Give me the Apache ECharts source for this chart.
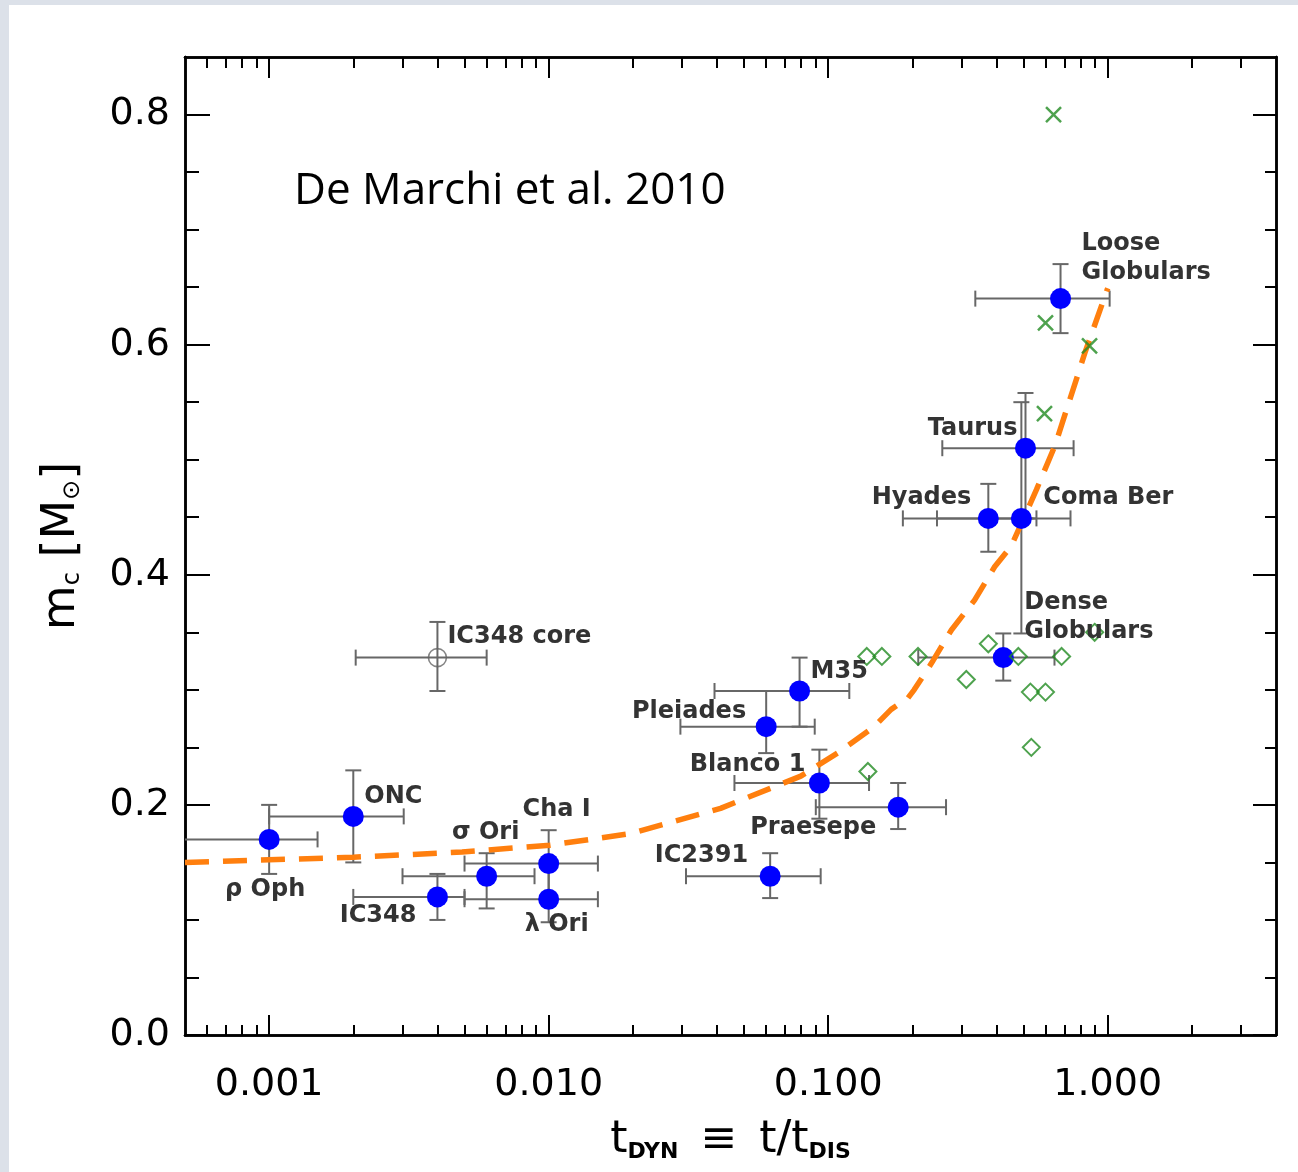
<!DOCTYPE html>
<html><head><meta charset="utf-8">
<script src="https://cdn.jsdelivr.net/npm/echarts@6/dist/echarts.min.js"></script>
<style>
html,body{margin:0;padding:0;width:1298px;height:1172px;overflow:hidden;background:#dce1e9;}
#panel{position:absolute;left:9px;top:5px;width:1289px;height:1167px;background:#fff;}
#chart{position:absolute;left:0;top:0;width:1298px;height:1172px;}
</style></head><body><div id="panel"></div><div id="chart"></div>
<script>
// ---------- data ----------
const clusterNames = ['ρ Oph','ONC','IC348','σ Ori','Cha I','λ Ori','IC2391','Pleiades','M35','Blanco 1','Praesepe','Hyades','Coma Ber','Taurus','Dense\nGlobulars','Loose\nGlobulars'];
const clusterT   = [0.001, 0.002, 0.004, 0.006, 0.010, 0.010, 0.062, 0.060, 0.079, 0.093, 0.178, 0.374, 0.491, 0.508, 0.423, 0.678];
const clusterM   = [0.170, 0.190, 0.120, 0.138, 0.149, 0.118, 0.138, 0.268, 0.299, 0.219, 0.198, 0.449, 0.449, 0.510, 0.328, 0.640];
const clusterTlo = [0.0004, 0.001, 0.002, 0.003, 0.005, 0.005, 0.031, 0.0296, 0.0392, 0.0462, 0.0903, 0.185, 0.245, 0.256, 0.210, 0.336];
const clusterThi = [0.00149, 0.00303, 0.005, 0.0089, 0.015, 0.015, 0.094, 0.0895, 0.119, 0.140, 0.264, 0.556, 0.736, 0.755, 0.645, 1.016];
const clusterMlo = [0.140, 0.150, 0.100, 0.110, 0.120, 0.098, 0.119, 0.245, 0.268, 0.188, 0.179, 0.420, 0.349, 0.449, 0.308, 0.610];
const clusterMhi = [0.200, 0.230, 0.140, 0.158, 0.178, 0.149, 0.158, 0.299, 0.328, 0.248, 0.219, 0.479, 0.550, 0.558, 0.349, 0.670];

const coreName = 'IC348 core';
const coreT = 0.004, coreM = 0.328, coreTlo = 0.00204, coreThi = 0.006, coreMlo = 0.299, coreMhi = 0.359;

const diamondT = [0.1374, 0.1556, 0.2096, 0.374, 0.479, 0.312, 0.529, 0.599, 0.684, 0.898, 0.533, 0.1387];
const diamondM = [0.329, 0.329, 0.329, 0.340, 0.329, 0.309, 0.298, 0.298, 0.329, 0.350, 0.250, 0.229];

const crossT = [0.640, 0.599, 0.861, 0.594];
const crossM = [0.800, 0.619, 0.599, 0.540];

const curveT = [0.0005, 0.002, 0.0049, 0.0101, 0.0196, 0.0412, 0.0798, 0.108, 0.146, 0.168, 0.193, 0.203, 0.234, 0.276, 0.334, 0.394, 0.452, 0.556, 0.647, 0.829, 1.0];
const curveM = [0.150, 0.1545, 0.159, 0.165, 0.175, 0.197, 0.225, 0.245, 0.268, 0.283, 0.293, 0.300, 0.323, 0.352, 0.378, 0.407, 0.425, 0.474, 0.512, 0.593, 0.649];

const xMajorTicks = [0.001, 0.01, 0.1, 1];
const xMinorTicks = [0.0006,0.0007,0.0008,0.0009, 0.002,0.003,0.004,0.005,0.006,0.007,0.008,0.009,
                     0.02,0.03,0.04,0.05,0.06,0.07,0.08,0.09, 0.2,0.3,0.4,0.5,0.6,0.7,0.8,0.9, 2,3];
const yMajorTicks = [0, 0.2, 0.4, 0.6, 0.8];
const yMinorTicks = [0.05,0.1,0.15,0.25,0.3,0.35,0.45,0.5,0.55,0.65,0.7,0.75];

// ---------- styling ----------
const ERR = '#676767', BLUE = '#0000ff', GREEN = '#228b22', ORANGE = '#ff7f0e', LABEL = '#333333';
const labelPlacement = {
  'ρ Oph': {dx:-4, dy:50, align:'center'},
  'ONC': {dx:11, dy:-20, align:'left'},
  'IC348': {dx:-21, dy:19, align:'right'},
  'σ Ori': {dx:-1, dy:-43, align:'center'},
  'Cha I': {dx:8, dy:-54, align:'center'},
  'λ Ori': {dx:8, dy:26, align:'center'},
  'IC2391': {dx:-22, dy:-20, align:'right'},
  'Pleiades': {dx:-20, dy:-15, align:'right'},
  'M35': {dx:11, dy:-19, align:'left'},
  'Blanco 1': {dx:-14, dy:-18, align:'right'},
  'Praesepe': {dx:-22, dy:21, align:'right'},
  'Hyades': {dx:-17, dy:-21, align:'right'},
  'Coma Ber': {dx:22, dy:-21, align:'left'},
  'Taurus': {dx:-8, dy:-19, align:'right'},
  'Dense\nGlobulars': {dx:21, dy:-40, align:'left'},
  'Loose\nGlobulars': {dx:21, dy:-40, align:'left'},
  'IC348 core': {dx:10, dy:-21, align:'left'}
};

const errData = clusterT.map((t,i)=>[t, clusterM[i], clusterTlo[i], clusterThi[i], clusterMlo[i], clusterMhi[i]]);
errData.push([coreT, coreM, coreTlo, coreThi, coreMlo, coreMhi]);
const labelNames = clusterNames.concat([coreName]);
const labelData = errData.map(d=>[d[0], d[1]]);

function renderErr(params, api) {
  const cs = params.coordSys;
  const xmin = cs.x, xmax = cs.x + cs.width;
  const c = api.coord([api.value(0), api.value(1)]);
  const l = api.coord([api.value(2), api.value(1)]);
  const r = api.coord([api.value(3), api.value(1)]);
  const b = api.coord([api.value(0), api.value(4)]);
  const t = api.coord([api.value(0), api.value(5)]);
  const cap = 8;
  const st = () => ({stroke: ERR, lineWidth: 2, fill: null});
  const ch = [];
  const lx = Math.max(l[0], xmin), rx = Math.min(r[0], xmax);
  ch.push({type:'line', shape:{x1:lx, y1:c[1], x2:rx, y2:c[1]}, style: st()});
  if (l[0] >= xmin) ch.push({type:'line', shape:{x1:l[0], y1:c[1]-cap, x2:l[0], y2:c[1]+cap}, style: st()});
  if (r[0] <= xmax) ch.push({type:'line', shape:{x1:r[0], y1:c[1]-cap, x2:r[0], y2:c[1]+cap}, style: st()});
  ch.push({type:'line', shape:{x1:c[0], y1:b[1], x2:c[0], y2:t[1]}, style: st()});
  ch.push({type:'line', shape:{x1:c[0]-cap, y1:b[1], x2:c[0]+cap, y2:b[1]}, style: st()});
  ch.push({type:'line', shape:{x1:c[0]-cap, y1:t[1], x2:c[0]+cap, y2:t[1]}, style: st()});
  return {type:'group', children: ch};
}

function renderLabel(params, api) {
  const name = labelNames[params.dataIndex];
  const p = labelPlacement[name];
  const c = api.coord([api.value(0), api.value(1)]);
  return {
    type:'text', x: c[0] + p.dx, y: c[1] + p.dy,
    style: {text: name, fill: LABEL, font: 'bold 24px "DejaVu Sans"', align: p.align, verticalAlign: 'middle', lineHeight: 29}
  };
}

const tickFont = {fontFamily: 'DejaVu Sans', fontSize: 38, color: '#000'};
const axisLineStyle = {show: true, onZero: false, lineStyle: {color: '#000', width: 2.5}};

function xAx(pos, ticks, len, showLabel, extra) {
  return Object.assign({
    type: 'log', logBase: 10, min: 0.0005, max: 4, position: pos, offset: 0,
    axisLine: axisLineStyle,
    axisTick: {show: true, inside: true, length: len, customValues: ticks, lineStyle: {color: '#000', width: 2}},
    axisLabel: showLabel ? Object.assign({show: true, customValues: ticks, margin: 31, formatter: v => Number(v).toFixed(3)}, tickFont) : {show: false},
    splitLine: {show: false}, minorTick: {show: false}, minorSplitLine: {show: false}
  }, extra || {});
}
function yAx(pos, ticks, len, showLabel, extra) {
  return Object.assign({
    type: 'value', min: 0, max: 0.85, position: pos, offset: 0,
    axisLine: axisLineStyle,
    axisTick: {show: true, inside: true, length: len, customValues: ticks, lineStyle: {color: '#000', width: 2}},
    axisLabel: showLabel ? Object.assign({show: true, customValues: ticks, margin: 15, formatter: v => Number(v).toFixed(1)}, tickFont) : {show: false},
    splitLine: {show: false}
  }, extra || {});
}

const chart = echarts.init(document.getElementById('chart'), null, {renderer: 'canvas'});
chart.setOption({
  animation: false,
  backgroundColor: 'transparent',
  title: {text: 'De Marchi et al. 2010', left: 294, top: 169, padding: 0,
          textStyle: {fontFamily: 'Open Sans', fontSize: 44, fontWeight: 'normal', color: '#000'}},
  grid: {left: 185, top: 57, right: 22, bottom: 137, containLabel: false, outerBoundsMode: 'none'},
  xAxis: [
    xAx('bottom', xMajorTicks, 20, true, {
      name: '{t|t}{s|DYN}{g| }{t|≡}{g| }{t|t/t}{s|DIS}', nameLocation: 'middle', nameGap: 80,
      nameTextStyle: {rich: {
        t: {fontFamily: 'DejaVu Sans', fontSize: 44, color: '#000', verticalAlign: 'bottom', lineHeight: 48},
        g: {fontFamily: 'DejaVu Sans', fontSize: 44, color: '#000', verticalAlign: 'bottom', lineHeight: 48, width: 22},
        s: {fontFamily: 'DejaVu Sans', fontSize: 22, fontWeight: 'bold', color: '#000', verticalAlign: 'bottom', lineHeight: 48}
      }}
    }),
    xAx('bottom', xMinorTicks, 10, false),
    xAx('top', xMajorTicks, 21, false),
    xAx('top', xMinorTicks, 11, false)
  ],
  yAxis: [
    yAx('left', yMajorTicks, 25, true, {
      name: '{m|m}{s|c}{m| [M}{s|⊙}{m|]}', nameLocation: 'middle', nameGap: 100,
      nameTextStyle: {rich: {
        m: {fontFamily: 'DejaVu Sans', fontSize: 46, color: '#000', verticalAlign: 'bottom', lineHeight: 50},
        s: {fontFamily: 'DejaVu Sans', fontSize: 24, color: '#000', verticalAlign: 'bottom', lineHeight: 50}
      }}
    }),
    yAx('left', yMinorTicks, 14, false),
    yAx('right', yMajorTicks, 23, false),
    yAx('right', yMinorTicks, 11, false)
  ],
  series: [
    {type: 'custom', name: 'errors', xAxisIndex: 0, yAxisIndex: 0, z: 2, silent: true,
     renderItem: renderErr, data: errData, encode: {x: 0, y: 1}},
    {type: 'line', name: 'model', xAxisIndex: 0, yAxisIndex: 0, z: 3, silent: true,
     data: curveT.map((t,i)=>[t, curveM[i]]), showSymbol: false, symbol: 'none', smooth: false,
     lineStyle: {color: ORANGE, width: 5.5, type: [24, 14], cap: 'butt'}},
    {type: 'scatter', name: 'clusters', xAxisIndex: 0, yAxisIndex: 0, z: 4, silent: true,
     data: clusterT.map((t,i)=>[t, clusterM[i]]), symbol: 'circle', symbolSize: 21,
     itemStyle: {color: BLUE, opacity: 1}},
    {type: 'scatter', name: 'core', xAxisIndex: 0, yAxisIndex: 0, z: 4, silent: true,
     data: [[coreT, coreM]], symbol: 'circle', symbolSize: 18,
     itemStyle: {color: 'rgba(0,0,0,0)', borderColor: ERR, borderWidth: 1.6}},
    {type: 'scatter', name: 'diamonds', xAxisIndex: 0, yAxisIndex: 0, z: 5, silent: true,
     data: diamondT.map((t,i)=>[t, diamondM[i]]), symbol: 'diamond', symbolSize: 17,
     itemStyle: {color: 'rgba(0,0,0,0)', borderColor: GREEN, borderWidth: 2}},
    {type: 'scatter', name: 'crosses', xAxisIndex: 0, yAxisIndex: 0, z: 5, silent: true,
     data: crossT.map((t,i)=>[t, crossM[i]]), symbol: 'path://M0,0L10,10M10,0L0,10', symbolSize: 15,
     itemStyle: {color: 'rgba(0,0,0,0)', borderColor: GREEN, borderWidth: 2.5}},
    {type: 'custom', name: 'labels', xAxisIndex: 0, yAxisIndex: 0, z: 6, silent: true,
     renderItem: renderLabel, data: labelData, encode: {x: 0, y: 1}}
  ]
});
</script></body></html>
